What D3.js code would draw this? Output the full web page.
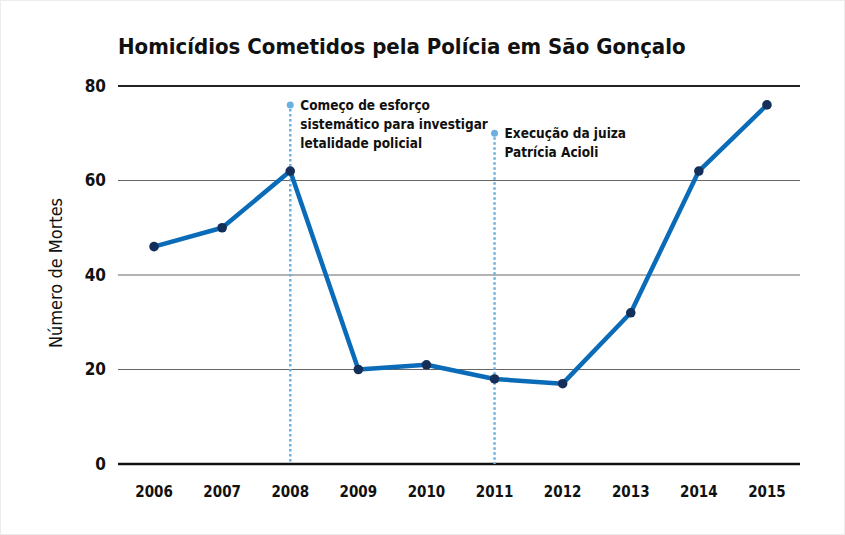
<!DOCTYPE html>
<html>
<head>
<meta charset="utf-8">
<script src="https://cdn.jsdelivr.net/npm/d3@7"></script>
<style>
  body { margin:0; background:#fff; }
  svg { display:block; font-family:"DejaVu Sans Condensed","Liberation Sans Narrow",sans-serif; }
</style>
</head>
<body>
<svg id="chart" width="845" height="535"></svg>
<script>
// data
const years  = ['2006','2007','2008','2009','2010','2011','2012','2013','2014','2015'];
const deaths = [46, 50, 62, 20, 21, 18, 17, 32, 62, 76];
const yTicks = [0, 20, 40, 60, 80];
const notes  = [
  { year:'2008', top:76, lines:['Começo de esforço','sistemático para investigar','letalidade policial'] },
  { year:'2011', top:70, lines:['Execução da juiza','Patrícia Acioli'] }
];

const svg = d3.select('#chart');
const W = 845, H = 535;
const m = { left:118, right:800, top:86, bottom:464 };

svg.append('rect').attr('x',0.5).attr('y',0.5).attr('width',W-1).attr('height',H-1)
   .attr('fill','#fff').attr('stroke','#ececec');

const x = d3.scalePoint().domain(years).range([m.left + 2, m.right + 1]).padding(0.5);
const y = d3.scaleLinear().domain([0, 80]).range([m.bottom, m.top]);

// title
svg.append('text').attr('x',118).attr('y',54)
   .attr('font-size',22).attr('font-weight','bold').attr('fill','#111')
   .text('Homicídios Cometidos pela Polícia em São Gonçalo');

// gridlines + y labels
const gy = svg.append('g');
yTicks.forEach(t => {
  gy.append('line').attr('x1', m.left).attr('x2', m.right)
    .attr('y1', y(t)).attr('y2', y(t))
    .attr('stroke', t === 0 ? '#111' : (t === 80 ? '#222' : '#666'))
    .attr('stroke-width', t === 0 ? 2.5 : (t === 80 ? 1.8 : 1));
  gy.append('text').attr('x', 106).attr('y', y(t)).attr('dy','0.35em')
    .attr('text-anchor','end').attr('font-size',17).attr('font-weight','bold')
    .attr('fill','#111').text(t);
});

// x labels
svg.append('g').selectAll('text').data(years).join('text')
   .attr('x', d => x(d)).attr('y', 497).attr('text-anchor','middle')
   .attr('font-size',15).attr('font-weight','bold').attr('fill','#111')
   .text(d => d);

// y axis title
svg.append('text').attr('transform','translate(62,273) rotate(-90)')
   .attr('text-anchor','middle').attr('font-size',18).attr('fill','#111')
   .text('Número de Mortes');

// annotations
notes.forEach(n => {
  const xx = x(n.year);
  svg.append('line').attr('x1', xx).attr('x2', xx)
     .attr('y1', y(n.top) + 4).attr('y2', m.bottom)
     .attr('stroke','#6ab0e0').attr('stroke-width',2.5).attr('stroke-dasharray','2.5,2.5');
  svg.append('circle').attr('cx', xx).attr('cy', y(n.top)).attr('r',3.5).attr('fill','#6ab0e0');
  const t = svg.append('text').attr('x', xx + 10).attr('y', y(n.top) + 5)
     .attr('font-size',13.5).attr('font-weight','bold').attr('fill','#111');
  n.lines.forEach((l, i) => t.append('tspan').attr('x', xx + 10).attr('dy', i ? 19 : 0).text(l));
});

// line + points
const pts = years.map((yr, i) => ({ yr, v: deaths[i] }));
svg.append('path').datum(pts)
   .attr('fill','none').attr('stroke','#0a6cb8').attr('stroke-width',4.5)
   .attr('stroke-linejoin','round')
   .attr('d', d3.line().x(d => x(d.yr)).y(d => y(d.v)));
svg.append('g').selectAll('circle').data(pts).join('circle')
   .attr('cx', d => x(d.yr)).attr('cy', d => y(d.v)).attr('r',4.8).attr('fill','#14305a');
</script>
</body>
</html>
